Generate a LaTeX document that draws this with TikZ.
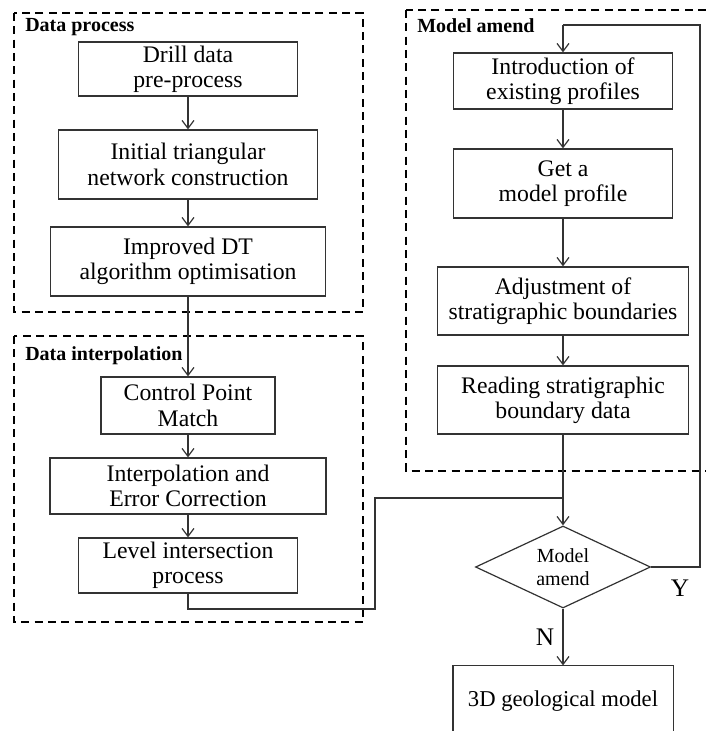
\documentclass[tikz,border=0pt]{standalone}
\usepackage{fontspec}
\setmainfont{Liberation Serif}
\usetikzlibrary{arrows.meta,shapes.geometric}
\tikzset{
  procbox/.style={draw=black!80,line width=0.9pt,fill=white,align=center,inner sep=1pt,
    font=\fontsize{17.8}{19}\selectfont},
  groupbox/.style={draw=black,line width=1.5pt,dash pattern=on 6pt off 4pt},
  grouplabel/.style={anchor=base west,inner sep=0pt,font=\fontsize{15}{17}\selectfont\bfseries},
  link/.style={draw=black!80,line width=0.9pt},
  flow/.style={link,-{Straight Barb[length=6pt,width=9pt,line width=0.9pt]}},
  decide/.style={diamond,aspect=2.13,draw=black!80,line width=0.9pt,fill=white,align=center,
    inner sep=0pt,font=\fontsize{15}{17}\selectfont},
  yn/.style={inner sep=0pt,font=\fontsize{19}{21}\selectfont}
}
\begin{document}
\begin{tikzpicture}[x=0.75pt,y=-0.75pt]
\useasboundingbox (0,0) rectangle (706,731);
\begin{scope}
\clip (0,0) rectangle (706,731);
% group boxes
\draw[groupbox] (14,13) rectangle (363,312);
\draw[groupbox] (14,336) rectangle (363,622);
\draw[groupbox] (406,10) rectangle (715,471);
\node[grouplabel] (lp) at (25,32) {Data process};
\node[grouplabel] (li) at (25,360) {Data interpolation};
\node[grouplabel] (lm) at (417,33) {Model amend};

% left column
\node[procbox,minimum width=164.25pt,minimum height=40.5pt] (drill) at (188,69) {Drill data\\pre-process};
\node[procbox,minimum width=194.25pt,minimum height=51.75pt] (init) at (188,164.5) {Initial triangular\\network construction};
\node[procbox,minimum width=206.25pt,minimum height=51.75pt] (impr) at (188,261.5) {Improved DT\\algorithm optimisation};
\node[procbox,minimum width=130.5pt,minimum height=42.75pt] (ctrl) at (188,405.5) {Control Point\\Match};
\node[procbox,minimum width=207pt,minimum height=42pt] (interp) at (188,486) {Interpolation and\\Error Correction};
\node[procbox,minimum width=164.25pt,minimum height=41.25pt] (level) at (188,565.5) {Level intersection\\process};

% right column
\node[procbox,minimum width=164.25pt,minimum height=42pt] (intro) at (563,81) {Introduction of\\existing profiles};
\node[procbox,minimum width=164.25pt,minimum height=51.75pt] (geta) at (563,183.5) {Get a\\model profile};
\node[procbox,minimum width=188.25pt,minimum height=51pt] (adj) at (563,301) {Adjustment of\\stratigraphic boundaries};
\node[procbox,minimum width=188.25pt,minimum height=51pt] (read) at (563,400) {Reading stratigraphic\\boundary data};
\node[decide,minimum width=131.25pt,minimum height=61.5pt] (dec) at (563,567) {Model\\amend};
\node[procbox,draw=none,minimum width=164.25pt,minimum height=52.5pt,font=\fontsize{17}{19}\selectfont] (geo) at (563,701) {3D geological model};
\draw[link] ([yshift=-10pt]geo.south west) -- (geo.north west) -- (geo.north east) -- ([yshift=-10pt]geo.south east);

\coordinate (j1) at (188,609);
\coordinate (j2) at (375,609);
\coordinate (j3) at (375,498);
\coordinate (j4) at (563,498);
\coordinate (r1) at (700,567);
\coordinate (r2) at (700,25);
\coordinate (r3) at (563,25);

% connectors
\draw[flow] (drill) -- (init);
\draw[flow] (init) -- (impr);
\draw[flow] (impr) -- (ctrl);
\draw[flow] (ctrl) -- (interp);
\draw[flow] (interp) -- (level);
\draw[link] (level.south) -- (j1) -- (j2) -- (j3) -- (j4);
\draw[flow] (intro) -- (geta);
\draw[flow] (geta) -- (adj);
\draw[flow] (adj) -- (read);
\draw[flow] (read) -- (dec);
\draw[link] (dec.east) -- (r1) -- (r2) -- (r3);
\draw[flow] (r3) -- (intro);
\draw[flow] (dec) -- (geo);
\node[yn] (ylab) at (680,588) {Y};
\node[yn] (nlab) at (545,637) {N};
\end{scope}
\end{tikzpicture}
\end{document}
